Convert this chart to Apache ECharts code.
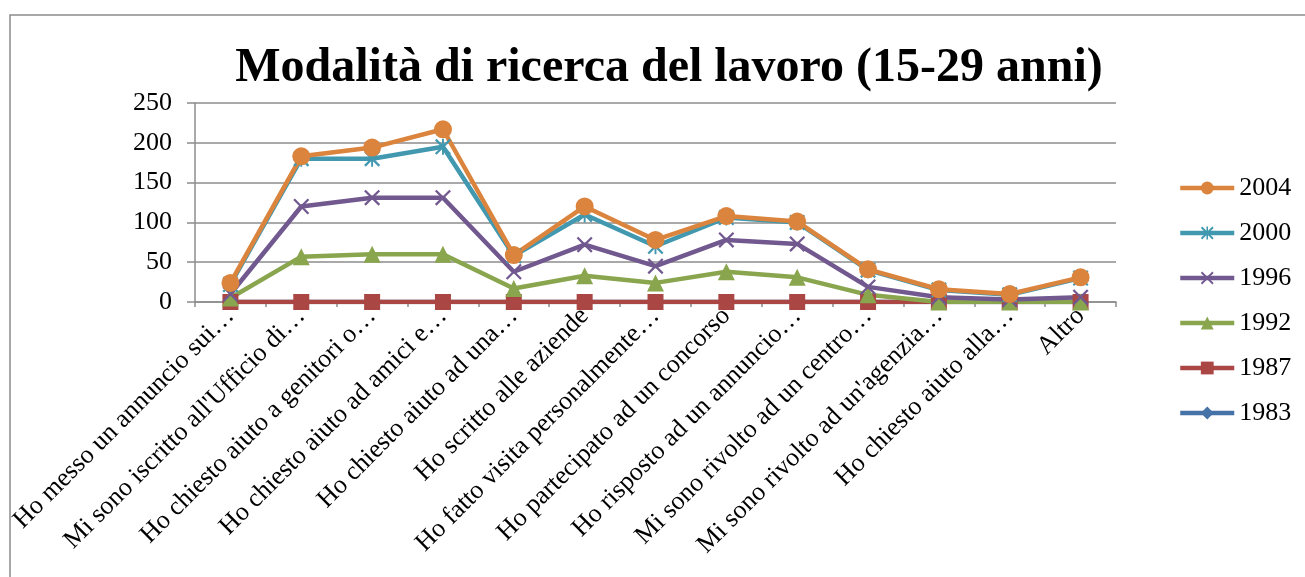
<!DOCTYPE html>
<html>
<head>
<meta charset="utf-8">
<script src="https://cdn.jsdelivr.net/npm/echarts@6/dist/echarts.min.js"></script>
<style>
  html, body { margin: 0; padding: 0; background: #fff; }
  #chart { width: 1305px; height: 577px; }
</style>
</head>
<body>
<div id="chart"></div>
<script>
// categorie (etichette troncate come nel grafico originale)
var categorie = [
  'Ho messo un annuncio sui…',
  "Mi sono iscritto all'Ufficio di…",
  'Ho chiesto aiuto a genitori o…',
  'Ho chiesto aiuto ad amici e…',
  'Ho chiesto aiuto ad una…',
  'Ho scritto alle aziende',
  'Ho fatto visita personalmente…',
  'Ho partecipato ad un concorso',
  'Ho risposto ad un annuncio…',
  'Mi sono rivolto ad un centro…',
  "Mi sono rivolto ad un'agenzia…",
  'Ho chiesto aiuto alla…',
  'Altro'
];
var anni = ['2004', '2000', '1996', '1992', '1987', '1983'];
var tickY = [0, 50, 100, 150, 200, 250];

var v2004 = [24, 183, 194, 217, 59, 120, 78, 108, 101, 41, 16, 10, 31];
var v2000 = [22, 180, 180, 195, 58, 110, 70, 106, 100, 40, 15, 9, 30];
var v1996 = [10, 120, 131, 131, 38, 72, 45, 78, 73, 19, 6, 3, 6];
var v1992 = [5, 57, 60, 60, 17, 33, 24, 38, 31, 9, 0, 0, 0];
var v1987 = [0, 0, 0, 0, 0, 0, 0, 0, 0, 0, 0, 0, 0];
var v1983 = [0, 0, 0, 0, 0, 0, 0, 0, 0, 0, 0, 0, 0];

var serif = '"Liberation Serif", "DejaVu Serif", serif';
var griglia = '#8c8c8c';

var simboloX = 'path://M0,1L1,0L10,9L9,10Z M9,0L10,1L1,10L0,9Z';
var simboloStella = 'path://M0,1L1,0L10,9L9,10Z M9,0L10,1L1,10L0,9Z M4.4,0L5.6,0L5.6,10L4.4,10Z';

function serie(nome, dati, colore, simbolo, size) {
  return {
    name: nome,
    type: 'line',
    data: dati,
    symbol: simbolo,
    symbolSize: size,
    showAllSymbol: true,
    lineStyle: { color: colore, width: 4.5 },
    itemStyle: { color: colore },
    emphasis: { disabled: true }
  };
}

var chart = echarts.init(document.getElementById('chart'));
var option = {
  animation: false,
  backgroundColor: '#fff',
  graphic: [{
    type: 'rect',
    shape: { x: 10, y: 15, width: 1400, height: 700 },
    style: { fill: 'none', stroke: '#8c8c8c', lineWidth: 1.5 },
    silent: true
  }],
  title: {
    text: 'Modalità di ricerca del lavoro (15-29 anni)',
    left: 664,
    textAlign: 'center',
    top: 40,
    textStyle: { fontFamily: serif, fontSize: 48, fontWeight: 'bold', color: '#000' }
  },
  legend: {
    data: anni,
    orient: 'vertical',
    left: 1178,
    top: 175,
    padding: 0,
    itemWidth: 54,
    itemHeight: 16,
    itemGap: 19,
    lineStyle: { width: 4.5 },
    textStyle: { fontFamily: serif, fontSize: 26, color: '#000' }
  },
  grid: { left: 195, right: 189, top: 103, bottom: 275, containLabel: false },
  xAxis: {
    type: 'category',
    data: categorie,
    boundaryGap: true,
    axisLine: { lineStyle: { color: griglia, width: 1.5 } },
    axisTick: { show: true, length: 5, alignWithLabel: false, lineStyle: { color: griglia, width: 1.5 } },
    axisLabel: { interval: 0, rotate: 45, margin: 10, fontFamily: serif, fontSize: 26, color: '#000' }
  },
  yAxis: {
    type: 'value',
    min: 0,
    max: 250,
    interval: 50,
    axisLine: { show: true, lineStyle: { color: griglia, width: 1.5 } },
    axisTick: { show: true, length: 8, lineStyle: { color: griglia, width: 1.5 } },
    axisLabel: { margin: 23, fontFamily: serif, fontSize: 26, color: '#000' },
    splitLine: { show: true, lineStyle: { color: griglia, width: 1.5 } }
  },
  series: [
    serie('1983', v1983, '#4572A7', 'diamond', 12),
    serie('1987', v1987, '#AA4643', 'rect', 16),
    serie('1992', v1992, '#89A54E', 'triangle', 17),
    serie('1996', v1996, '#71588F', simboloX, 16),
    serie('2000', v2000, '#4198AF', simboloStella, 16),
    serie('2004', v2004, '#DB843D', 'circle', 18)
  ]
};
chart.setOption(option);
</script>
</body>
</html>
